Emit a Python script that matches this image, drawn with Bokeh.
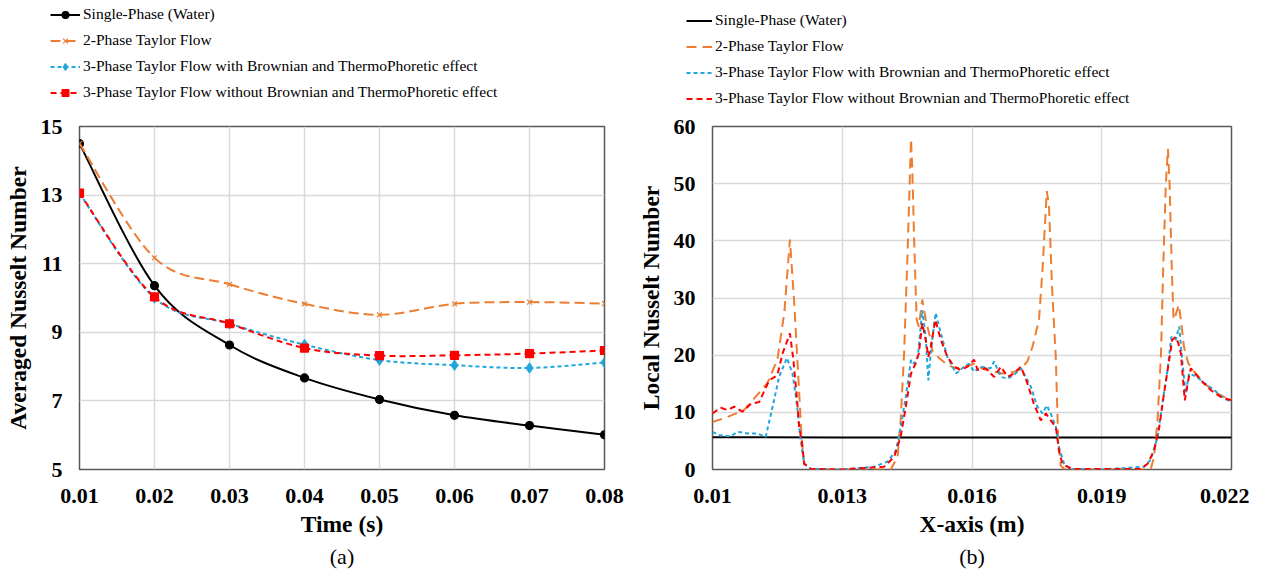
from bokeh.plotting import figure
from bokeh.layouts import row, column
from bokeh.models import (Legend, LegendItem, FixedTicker, Range1d, Title,
                          ColumnDataSource)
from bokeh.embed import file_html
from bokeh.resources import INLINE

# ---------------- Panel (a) data ----------------
time_s = [0.01, 0.02, 0.03, 0.04, 0.05, 0.06, 0.07, 0.08]
nu_single = [14.50, 10.36, 8.63, 7.67, 7.04, 6.58, 6.28, 6.01]
nu_two_phase = [14.50, 11.17, 10.40, 9.83, 9.51, 9.83, 9.88, 9.84]
nu_three_with = [13.05, 10.00, 9.25, 8.64, 8.19, 8.04, 7.96, 8.12]
nu_three_without = [13.06, 10.03, 9.25, 8.54, 8.32, 8.33, 8.38, 8.47]
a_xticks = [0.01, 0.02, 0.03, 0.04, 0.05, 0.06, 0.07, 0.08]
a_yticks = [5, 7, 9, 11, 13, 15]

# ---------------- Panel (b) data ----------------
b_single_x = [0.010, 0.013, 0.016, 0.019, 0.022]
b_single_y = [5.65, 5.6, 5.6, 5.6, 5.6]

b_two_x = [0.0100, 0.01035, 0.01073, 0.01096, 0.01127, 0.01150, 0.01166, 0.01179,
           0.01189, 0.01198, 0.01206, 0.01212, 0.01223, 0.01300, 0.01412, 0.01428,
           0.01435, 0.01443, 0.01451, 0.01459, 0.01462, 0.01466, 0.01472, 0.01477,
           0.01485, 0.01493, 0.01501, 0.01509, 0.01524, 0.01543, 0.01563, 0.01582,
           0.01605, 0.01625, 0.01645, 0.01670, 0.01695, 0.01713, 0.01728, 0.01740,
           0.01755, 0.01763, 0.01773, 0.01778, 0.01785, 0.01794, 0.01799, 0.01805,
           0.01815, 0.01900, 0.02013, 0.02021, 0.02029, 0.02037, 0.02042, 0.02048,
           0.02053, 0.02057, 0.02062, 0.02066, 0.02070, 0.02078, 0.02083, 0.02090,
           0.02100, 0.02114, 0.02137, 0.02160, 0.02183, 0.02200]
b_two_y = [8.3, 9.2, 10.4, 12.4, 15.1, 19.2, 27.4, 40.2,
           29.1, 16.8, 5.7, 1.0, 0.1, 0.0, 0.0, 2.2,
           8.6, 20.3, 37.9, 57.8, 52.5, 40.8, 26.2, 25.0,
           29.7, 26.2, 23.8, 20.6, 19.5, 18.3, 17.7, 18.0,
           18.5, 17.6, 17.2, 16.8, 17.0, 17.6, 18.9, 21.5,
           26.2, 35.0, 48.7, 46.1, 32.0, 19.2, 5.7, 0.7,
           0.0, 0.0, 0.0, 2.2, 8.6, 20.3, 35.0, 49.6,
           56.1, 49.6, 35.0, 26.2, 26.8, 28.8, 26.2, 21.5,
           18.6, 17.1, 15.1, 13.6, 12.7, 12.2]

b_with_x = [0.0100, 0.01015, 0.01042, 0.01058, 0.01081, 0.01104, 0.01123, 0.01139,
            0.01154, 0.01172, 0.01185, 0.01195, 0.01203, 0.01212, 0.01228, 0.01300,
            0.01374, 0.01405, 0.01424, 0.01435, 0.01447, 0.01459, 0.01466, 0.01475,
            0.01485, 0.01493, 0.01499, 0.01506, 0.01516, 0.01528, 0.01543, 0.01563,
            0.01582, 0.01593, 0.01605, 0.01620, 0.01643, 0.01651, 0.01667, 0.01682,
            0.01697, 0.01713, 0.01724, 0.01736, 0.01751, 0.01763, 0.01773, 0.01782,
            0.01794, 0.01801, 0.01813, 0.01828, 0.01900, 0.01998, 0.02013, 0.02029,
            0.02040, 0.02052, 0.02061, 0.02071, 0.02079, 0.02086, 0.02094, 0.02102,
            0.02120, 0.02137, 0.02160, 0.02183, 0.02200]
b_with_y = [6.6, 6.0, 5.8, 6.6, 6.3, 6.3, 5.7, 11.0,
            16.2, 19.5, 16.8, 11.5, 5.7, 1.0, 0.1, 0.0,
            0.5, 1.4, 3.3, 7.4, 12.7, 19.2, 18.5, 19.8,
            27.9, 23.2, 15.6, 21.5, 27.4, 23.8, 19.7, 16.8,
            18.0, 18.5, 17.1, 18.0, 17.7, 18.9, 16.2, 15.9,
            16.5, 17.7, 16.2, 14.5, 11.0, 9.8, 11.2, 9.8,
            7.4, 3.9, 1.0, 0.1, 0.0, 0.5, 1.7, 5.7,
            11.5, 17.4, 23.2, 22.7, 25.0, 19.2, 13.3, 16.8,
            16.2, 15.1, 13.9, 12.4, 11.8]

b_without_x = [0.0100, 0.01019, 0.01035, 0.01050, 0.01069, 0.01089, 0.01108, 0.01131,
               0.01150, 0.01162, 0.01179, 0.01187, 0.01195, 0.01200, 0.01206, 0.01212,
               0.01228, 0.01300, 0.01397, 0.01420, 0.01435, 0.01447, 0.01459, 0.01470,
               0.01477, 0.01485, 0.01493, 0.01499, 0.01505, 0.01515, 0.01528, 0.01543,
               0.01559, 0.01574, 0.01590, 0.01605, 0.01613, 0.01632, 0.01651, 0.01667,
               0.01682, 0.01697, 0.01713, 0.01728, 0.01743, 0.01759, 0.01771, 0.01782,
               0.01794, 0.01801, 0.01809, 0.01820, 0.01832, 0.01990, 0.02006, 0.02021,
               0.02033, 0.02044, 0.02056, 0.02063, 0.02071, 0.02077, 0.02083, 0.02092,
               0.02100, 0.02106, 0.02129, 0.02152, 0.02175, 0.02200]
b_without_y = [9.8, 10.8, 10.4, 11.0, 10.1, 11.5, 11.8, 15.6,
               16.5, 20.3, 23.8, 19.2, 12.7, 7.7, 5.1, 1.0,
               0.1, 0.0, 0.5, 2.2, 5.7, 11.0, 16.8, 18.6,
               20.3, 25.6, 22.7, 19.7, 21.5, 26.2, 22.7, 19.7,
               18.0, 17.4, 18.0, 19.2, 17.4, 17.7, 16.2, 18.0,
               16.2, 16.8, 18.0, 15.1, 11.5, 8.6, 9.8, 8.6,
               7.4, 3.3, 1.0, 0.5, 0.1, 0.1, 1.0, 3.3,
               7.4, 13.3, 19.2, 22.7, 23.2, 22.1, 20.3, 12.1,
               15.6, 17.7, 15.6, 13.9, 12.7, 12.1]

b_xticks = [0.010, 0.013, 0.016, 0.019, 0.022]
b_xtick_labels = ["0.01", "0.013", "0.016", "0.019", "0.022"]
b_yticks = [0, 10, 20, 30, 40, 50, 60]

labels = ["Single-Phase (Water)", "2-Phase Taylor Flow",
          "3-Phase Taylor Flow with Brownian and ThermoPhoretic effect",
          "3-Phase Taylor Flow without Brownian and ThermoPhoretic effect"]

C_BLACK = "#000000"
C_ORANGE = "#ED7D31"
C_BLUE = "#21A6DD"
C_RED = "#FF0000"
GRID = "#D9D9D9"
FRAME = "#595959"
SERIF = "Liberation Serif"

A_STYLES = [(C_BLACK, "solid", "circle", 8),
            (C_ORANGE, "10 5", "x", 7),
            (C_BLUE, "4 3", "diamond", 10),
            (C_RED, "6 4", "square", 8)]
B_STYLES = [(C_BLACK, "solid"), (C_ORANGE, "10 6"), (C_BLUE, "4 3"), (C_RED, "6 4")]

LEG_H = 110
MAIN_H = 464
A_W = 628
B_W = 621


def smooth_source(xs, ys):
    """Bezier segments (Catmull-Rom style handles) through the given points."""
    n = len(xs)
    d = dict(x0=[], y0=[], x1=[], y1=[], cx0=[], cy0=[], cx1=[], cy1=[])
    for i in range(n - 1):
        xm, ym = (xs[i - 1], ys[i - 1]) if i > 0 else (xs[i], ys[i])
        xp, yp = (xs[i + 2], ys[i + 2]) if i + 2 < n else (xs[i + 1], ys[i + 1])
        d["x0"].append(xs[i]); d["y0"].append(ys[i])
        d["x1"].append(xs[i + 1]); d["y1"].append(ys[i + 1])
        d["cx0"].append(xs[i] + (xs[i + 1] - xm) / 6.0)
        d["cy0"].append(ys[i] + (ys[i + 1] - ym) / 6.0)
        d["cx1"].append(xs[i + 1] - (xp - xs[i]) / 6.0)
        d["cy1"].append(ys[i + 1] - (yp - ys[i]) / 6.0)
    return ColumnDataSource(d)


def style(p):
    p.outline_line_color = FRAME
    p.outline_line_width = 1.5
    p.background_fill_color = "white"
    p.border_fill_color = "white"
    for ax in (p.xaxis[0], p.yaxis[0]):
        ax.axis_line_color = None
        ax.major_tick_line_color = None
        ax.minor_tick_line_color = None
        ax.major_tick_out = 0
        ax.major_tick_in = 0
        ax.major_label_text_font = SERIF
        ax.major_label_text_font_style = "bold"
        ax.major_label_text_font_size = "22px"
        ax.major_label_text_color = "black"
        ax.axis_label_text_font = SERIF
        ax.axis_label_text_font_style = "bold"
        ax.axis_label_text_font_size = "23.5px"
        ax.axis_label_text_color = "black"
    p.xaxis.major_label_standoff = 19
    p.yaxis.major_label_standoff = 17
    p.xaxis.axis_label_standoff = 5
    p.yaxis.axis_label_standoff = 7
    p.xgrid.grid_line_color = GRID
    p.ygrid.grid_line_color = GRID
    p.xgrid.grid_line_width = 1.5
    p.ygrid.grid_line_width = 1.5


def add_caption(p, text):
    p.add_layout(Title(text=text, align="center", text_font=SERIF,
                       text_font_size="22px", text_font_style="normal",
                       text_color="black", standoff=5), "below")


def legend_figure(width, styles, x, y, gw, with_markers):
    """Legend strip drawn above a panel (proxy keys kept outside the view)."""
    lf = figure(width=width, height=LEG_H, output_backend="svg",
                toolbar_location=None, x_axis_type=None, y_axis_type=None,
                x_range=Range1d(0, 1), y_range=Range1d(0, 1),
                min_border_left=0, min_border_right=0, min_border_top=0,
                min_border_bottom=0, outline_line_color=None)
    lf.xgrid.visible = False
    lf.ygrid.visible = False
    items = []
    for lab, st in zip(labels, styles):
        rs = [lf.line([-5, -4], [-5, -4], line_color=st[0], line_width=2,
                      line_dash=st[1])]
        if with_markers:
            rs.append(lf.scatter([-5], [-5], marker=st[2], size=st[3],
                                 line_color=st[0], fill_color=st[0],
                                 line_width=1.2))
        items.append(LegendItem(label=lab, renderers=rs))
    leg = Legend(items=items, location=(x, y), orientation="vertical",
                 label_text_font=SERIF, label_text_font_size="15.5px",
                 label_text_color="black", glyph_width=gw, glyph_height=17,
                 label_height=17, spacing=8, padding=0, margin=0,
                 label_standoff=3, border_line_color=None,
                 background_fill_alpha=0)
    lf.add_layout(leg, "center")
    return lf


# ---------------- Figure (a) ----------------
pa = figure(width=A_W, height=MAIN_H, output_backend="svg", toolbar_location=None,
            x_range=Range1d(0.01, 0.08), y_range=Range1d(5, 15),
            min_border_left=79, min_border_right=24, min_border_top=16,
            min_border_bottom=105, x_axis_label="Time (s)",
            y_axis_label="Averaged Nusselt Number")
style(pa)
pa.xaxis.ticker = FixedTicker(ticks=a_xticks)
pa.yaxis.ticker = FixedTicker(ticks=a_yticks)
for ys, (col, dash, mk, sz) in zip([nu_single, nu_two_phase, nu_three_with,
                                    nu_three_without], A_STYLES):
    pa.bezier(x0="x0", y0="y0", x1="x1", y1="y1", cx0="cx0", cy0="cy0",
              cx1="cx1", cy1="cy1", source=smooth_source(time_s, ys),
              line_color=col, line_width=2, line_dash=dash)
    pa.scatter(time_s, ys, marker=mk, size=sz, line_color=col,
               fill_color=col, line_width=1.2)
add_caption(pa, "(a)")
la = legend_figure(A_W, A_STYLES, 50, 9, 30, True)

# ---------------- Figure (b) ----------------
pb = figure(width=B_W, height=MAIN_H, output_backend="svg", toolbar_location=None,
            x_range=Range1d(0.010, 0.022), y_range=Range1d(0, 60),
            min_border_left=84, min_border_right=18, min_border_top=16,
            min_border_bottom=105, x_axis_label="X-axis (m)",
            y_axis_label="Local Nusselt Number")
style(pb)
pb.xaxis.ticker = FixedTicker(ticks=b_xticks)
pb.xaxis.major_label_overrides = {t: l for t, l in zip(b_xticks, b_xtick_labels)}
pb.yaxis.ticker = FixedTicker(ticks=b_yticks)
for xs, ys, (col, dash) in zip([b_single_x, b_two_x, b_with_x, b_without_x],
                               [b_single_y, b_two_y, b_with_y, b_without_y],
                               B_STYLES):
    pb.line(xs, ys, line_color=col, line_width=2, line_dash=dash)
add_caption(pb, "(b)")
lb = legend_figure(B_W, B_STYLES, 58, 3, 26, False)

layout = column(row(la, lb), row(pa, pb))
open("out.html", "w").write(file_html(layout, INLINE))
